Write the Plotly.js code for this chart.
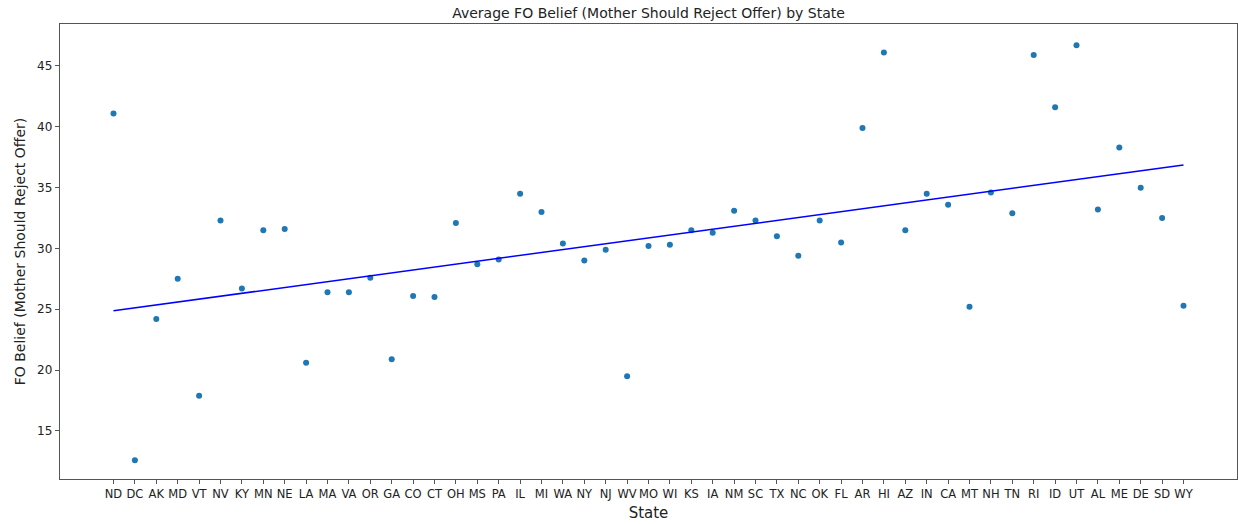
<!DOCTYPE html>
<html>
<head>
<meta charset="utf-8">
<script src="https://cdn.plot.ly/plotly-3.0.1.min.js"></script>
<style>html,body{margin:0;padding:0;background:#fff;}#chart{width:1238px;height:524px;}</style>
</head>
<body>
<div id="chart"></div>
<script>
const states = ["ND","DC","AK","MD","VT","NV","KY","MN","NE","LA","MA","VA","OR","GA","CO","CT","OH","MS","PA","IL","MI","WA","NY","NJ","WV","MO","WI","KS","IA","NM","SC","TX","NC","OK","FL","AR","HI","AZ","IN","CA","MT","NH","TN","RI","ID","UT","AL","ME","DE","SD","WY"];
const beliefs = [41.1,12.6,24.2,27.5,17.9,32.3,26.7,31.5,31.6,20.6,26.4,26.4,27.6,20.9,26.1,26.0,32.1,28.7,29.1,34.5,33.0,30.4,29.0,29.9,19.5,30.2,30.3,31.5,31.3,33.1,32.3,31.0,29.4,32.3,30.5,39.9,46.1,31.5,34.5,33.6,25.2,34.6,32.9,45.9,41.6,46.7,33.2,38.3,35.0,32.5,25.3];

// least-squares trend line against category index
const n = beliefs.length;
const idx = beliefs.map((_, i) => i);
const mx = idx.reduce((a, b) => a + b, 0) / n;
const my = beliefs.reduce((a, b) => a + b, 0) / n;
let sxy = 0, sxx = 0;
for (let i = 0; i < n; i++) { sxy += (idx[i] - mx) * (beliefs[i] - my); sxx += (idx[i] - mx) ** 2; }
const slope = sxy / sxx, intercept = my - slope * mx;
const trend = idx.map(i => intercept + slope * i);

const font = "DejaVu Sans, sans-serif";
Plotly.newPlot("chart", [
  {x: states, y: beliefs, type: "scatter", mode: "markers",
   marker: {color: "#1f77b4", size: 6}, hoverinfo: "x+y"},
  {x: states, y: trend, type: "scatter", mode: "lines",
   line: {color: "#0000ff", width: 1.5}}
], {
  width: 1238, height: 524,
  margin: {l: 60, r: 1, t: 24, b: 45},
  showlegend: false,
  paper_bgcolor: "#fff", plot_bgcolor: "#fff",
  title: {text: "Average FO Belief (Mother Should Reject Offer) by State",
          font: {family: font, size: 14, color: "#222"}, xref: "paper", x: 0.5, xanchor: "center",
          yref: "container", y: 0.984, yanchor: "top"},
  xaxis: {type: "category", range: [-2.5, 52.5], showgrid: false, zeroline: false,
          showline: true, mirror: true, linecolor: "#555", linewidth: 1.3,
          ticks: "outside", ticklen: 4, tickcolor: "#555", tickangle: 0,
          tickfont: {family: font, size: 11.5, color: "#222"},
          title: {text: "State", font: {family: font, size: 15, color: "#222"}, standoff: 7}},
  yaxis: {range: [11.05, 48.45], showgrid: false, zeroline: false,
          showline: true, mirror: true, linecolor: "#555", linewidth: 1.3,
          ticks: "outside", ticklen: 4, tickcolor: "#555",
          tickvals: [15, 20, 25, 30, 35, 40, 45],
          tickfont: {family: font, size: 12, color: "#222"},
          title: {text: "FO Belief (Mother Should Reject Offer)", font: {family: font, size: 14, color: "#222"}, standoff: 8}}
}, {displayModeBar: false, staticPlot: true});
</script>
</body>
</html>
